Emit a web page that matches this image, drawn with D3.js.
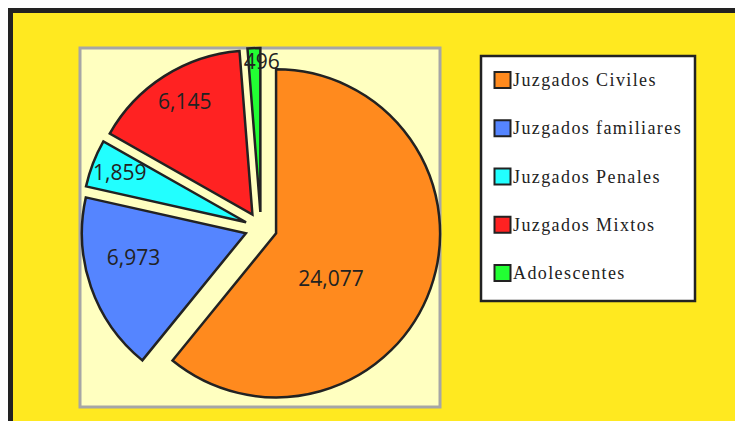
<!DOCTYPE html>
<html><head><meta charset="utf-8">
<script src="https://cdn.jsdelivr.net/npm/d3@7"></script>
<style>html,body{margin:0;padding:0;background:#fff;overflow:hidden}</style>
</head><body>
<svg id="c" width="735" height="421"></svg>
<script>
// ---- data ----
const categories = ["Juzgados Civiles", "Juzgados familiares", "Juzgados Penales", "Juzgados Mixtos", "Adolescentes"];
const values = [24077, 6973, 1859, 6145, 496];
const valueLabels = ["24,077", "6,973", "1,859", "6,145", "496"];
const colors = ["#FF8A1E", "#5585FF", "#22FFFF", "#FF2222", "#22FF33"];

// ---- layout ----
const W = 735, H = 421;
const plot = {x: 80, y: 48, w: 360, h: 359};
const center = {x: 261, y: 228};
const R = 164, explode = 16;
const labelPlace = [{r: 86, da: 16}, {r: 131, da: 6}, {r: 152, da: 0.5}, {r: 148, da: 1.5}, {r: 167, da: 2.5}];
const legend = {x: 481, y: 56, w: 214, h: 245, rowStart: 79.5, rowStep: 48.25};

const svg = d3.select("#c");
// frame
svg.append("rect").attr("x", 0).attr("y", 0).attr("width", W).attr("height", H).attr("fill", "#fff");
svg.append("rect").attr("x", 10.5).attr("y", 10.5).attr("width", W + 20).attr("height", H + 20)
  .attr("fill", "#FFE920").attr("stroke", "#222").attr("stroke-width", 5);
// plot area
svg.append("rect").attr("x", plot.x).attr("y", plot.y).attr("width", plot.w).attr("height", plot.h)
  .attr("fill", "#FFFFC0").attr("stroke", "#A6A6A6").attr("stroke-width", 3);

const data = categories.map((c, i) => ({cat: c, value: values[i], label: valueLabels[i], color: colors[i]}));
const pie = d3.pie().value(d => d.value).sort(null).startAngle(0).endAngle(2 * Math.PI);
const arcs = pie(data);
const arc = d3.arc().innerRadius(0).outerRadius(R);

const g = svg.append("g").attr("transform", `translate(${center.x},${center.y})`);
g.selectAll("path").data(arcs).join("path")
  .attr("d", arc)
  .attr("transform", d => {
    const m = (d.startAngle + d.endAngle) / 2;
    return `translate(${explode * Math.sin(m)},${-explode * Math.cos(m)})`;
  })
  .attr("fill", d => d.data.color)
  .attr("stroke", "#222").attr("stroke-width", 2.5).attr("stroke-linejoin", "miter");

g.selectAll("text.val").data(arcs).join("text").attr("class", "val")
  .attr("x", (d, i) => { const m = (d.startAngle + d.endAngle) / 2 + labelPlace[i].da * Math.PI / 180; return labelPlace[i].r * Math.sin(m); })
  .attr("y", (d, i) => { const m = (d.startAngle + d.endAngle) / 2 + labelPlace[i].da * Math.PI / 180; return -labelPlace[i].r * Math.cos(m); })
  .attr("dy", "0.36em")
  .attr("text-anchor", "middle")
  .attr("font-family", "'Open Sans', sans-serif").attr("font-size", 21).attr("fill", "#222")
  .text(d => d.data.label);

// legend
svg.append("rect").attr("x", legend.x).attr("y", legend.y).attr("width", legend.w).attr("height", legend.h)
  .attr("fill", "#fff").attr("stroke", "#222").attr("stroke-width", 2.5);
const lg = svg.append("g");
const rows = lg.selectAll("g").data(data).join("g")
  .attr("transform", (d, i) => `translate(${legend.x},${legend.y})`);
rows.append("rect")
  .attr("x", 13.5).attr("y", (d, i) => legend.rowStart + i * legend.rowStep - legend.y - 7.5)
  .attr("width", 16).attr("height", 16)
  .attr("fill", d => d.color).attr("stroke", "#222").attr("stroke-width", 2);
rows.append("text")
  .attr("x", 32).attr("y", (d, i) => legend.rowStart + i * legend.rowStep - legend.y + 6.5)
  .attr("font-family", "'Liberation Serif', 'Times New Roman', serif").attr("font-size", 18)
  .attr("letter-spacing", 1.4).attr("fill", "#222")
  .text(d => d.cat);
</script>
</body></html>
